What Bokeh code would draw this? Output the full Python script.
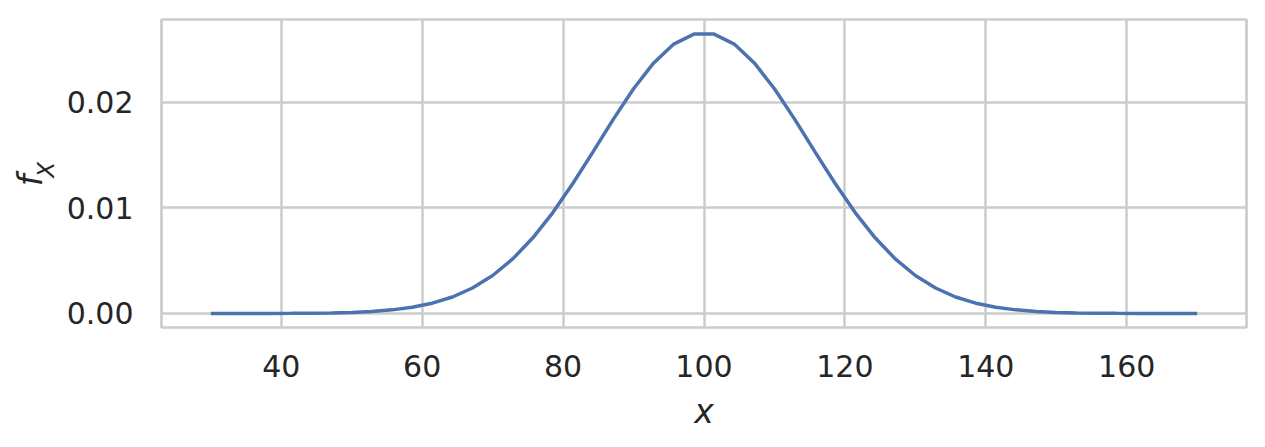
import math
from bokeh.plotting import figure
from bokeh.models import Range1d, FixedTicker, LinearAxis
from bokeh.embed import file_html
from bokeh.resources import INLINE

x_vals = [30.0, 32.86, 35.71, 38.57, 41.43, 44.29, 47.14, 50.0, 52.86, 55.71,
          58.57, 61.43, 64.29, 67.14, 70.0, 72.86, 75.71, 78.57, 81.43, 84.29,
          87.14, 90.0, 92.86, 95.71, 98.57, 101.43, 104.29, 107.14, 110.0, 112.86,
          115.71, 118.57, 121.43, 124.29, 127.14, 130.0, 132.86, 135.71, 138.57, 141.43,
          144.29, 147.14, 150.0, 152.86, 155.71, 158.57, 161.43, 164.29, 167.14, 170.0]
y_vals = [0.0000005, 0.0000012, 0.0000027, 0.0000061, 0.0000130, 0.0000268, 0.0000535,
          0.000103, 0.000190, 0.000341, 0.000587, 0.000975, 0.001563, 0.002415,
          0.003599, 0.005173, 0.007170, 0.009585, 0.012359, 0.015365, 0.018421,
          0.021296, 0.023745, 0.025532, 0.026476,
          0.026476, 0.025532, 0.023745, 0.021296, 0.018421, 0.015365, 0.012359,
          0.009585, 0.007170, 0.005173, 0.003599, 0.002415, 0.001563, 0.000975,
          0.000587, 0.000341, 0.000190, 0.000103, 0.0000535, 0.0000268, 0.0000130,
          0.0000061, 0.0000027, 0.0000012, 0.0000005]
x_ticks = [40, 60, 80, 100, 120, 140, 160]
y_ticks = [0.0, 0.01, 0.02]
y_tick_labels = ["0.00", "0.01", "0.02"]
x_label = "x"
y_label_main = "f"
y_label_sub = "X"

FONT = "DejaVu Sans"
GRID = "#cccccc"
TXT = "#262626"

x0, x1 = 23.0, 177.0
y0, y1 = -0.00133, 0.02786

p = figure(width=1257, height=439, output_backend="svg", toolbar_location=None,
           x_range=Range1d(x0, x1), y_range=Range1d(y0, y1),
           min_border_left=161, min_border_top=19, min_border_right=11,
           min_border_bottom=112)
p.background_fill_color = "white"
p.border_fill_color = "white"
p.outline_line_color = GRID
p.outline_line_width = 2.7

p.line(x_vals, y_vals, line_color="#4c72b0", line_width=3.5)

p.xaxis.ticker = FixedTicker(ticks=x_ticks)
p.yaxis.ticker = FixedTicker(ticks=y_ticks)
p.yaxis.major_label_overrides = {t: l for t, l in zip(y_ticks, y_tick_labels)}

for ax in (p.xaxis[0], p.yaxis[0]):
    ax.axis_line_color = None
    ax.major_tick_line_color = None
    ax.minor_tick_line_color = None
    ax.major_label_text_font = FONT
    ax.major_label_text_font_size = "30px"
    ax.major_label_text_color = TXT

p.xaxis.major_label_standoff = 21
p.yaxis.major_label_standoff = 22

p.xaxis.axis_label = x_label
p.xaxis.axis_label_text_font = FONT
p.xaxis.axis_label_text_font_style = "italic"
p.xaxis.axis_label_text_font_size = "33px"
p.xaxis.axis_label_text_color = TXT
p.xaxis.axis_label_standoff = 12

# subscript of the y label (inner axis label); leading space lifts it
p.yaxis.axis_label = "\u00a0" + y_label_sub
p.yaxis.axis_label_text_font = FONT
p.yaxis.axis_label_text_font_style = "italic"
p.yaxis.axis_label_text_font_size = "23px"
p.yaxis.axis_label_text_color = TXT
p.yaxis.axis_label_standoff = 5

# main letter of the y label (outer, label-only axis); trailing space lowers it
ax2 = LinearAxis(ticker=FixedTicker(ticks=[]), axis_label=y_label_main + "\u00a0\u200a",
                 axis_line_color=None, major_tick_line_color=None,
                 minor_tick_line_color=None, major_tick_out=0, major_tick_in=0,
                 minor_tick_out=0, minor_tick_in=0, major_label_standoff=0,
                 axis_label_standoff=-20, axis_label_text_font=FONT,
                 axis_label_text_font_style="italic",
                 axis_label_text_font_size="33px", axis_label_text_color=TXT)
p.add_layout(ax2, "left")

p.grid.grid_line_color = GRID
p.grid.grid_line_width = 2.5

open("out.html", "w").write(file_html(p, INLINE))
